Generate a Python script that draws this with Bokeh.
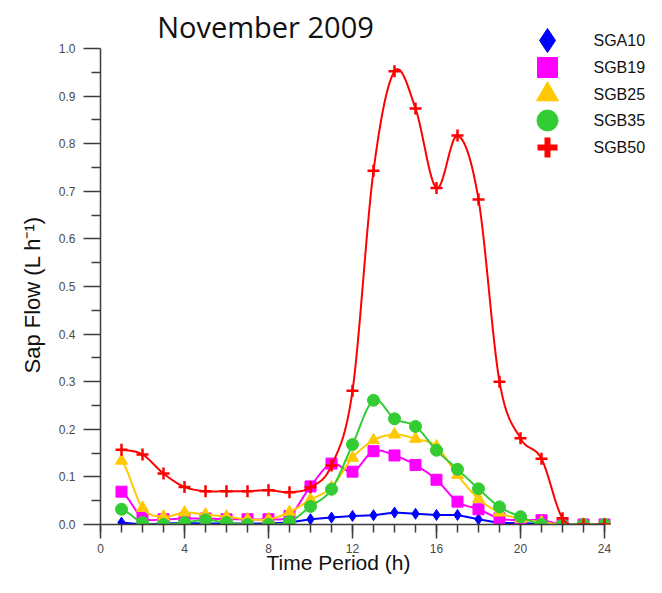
import numpy as np
from bokeh.plotting import figure
from bokeh.models import Range1d, FixedTicker, Label, NumeralTickFormatter, Title
from bokeh.core.properties import value
from bokeh.embed import file_html
from bokeh.resources import INLINE

# ---------------- data ----------------
hours = list(range(1, 25))
sga10 = [0.004, 0.0, 0.002, 0.003, 0.002, 0.002, 0.002, 0.002, 0.004, 0.011, 0.0145, 0.018,
         0.0195, 0.025, 0.0225, 0.02, 0.02, 0.011, 0.003, 0.003, 0.001, 0.0, 0.0, 0.0]
sgb19 = [0.069, 0.0145, 0.011, 0.0125, 0.0125, 0.011, 0.011, 0.011, 0.018, 0.08, 0.128, 0.111,
         0.154, 0.145, 0.125, 0.094, 0.048, 0.032, 0.013, 0.009, 0.009, 0.0, 0.0, 0.0]
sgb25 = [0.134, 0.035, 0.0165, 0.025, 0.021, 0.0165, 0.011, 0.011, 0.026, 0.052, 0.078, 0.14,
         0.177, 0.189, 0.18, 0.164, 0.104, 0.054, 0.025, 0.012, 0.005, 0.0, 0.0, 0.0]
sgb35 = [0.032, 0.004, 0.0, 0.004, 0.0097, 0.004, 0.0, 0.0, 0.006, 0.038, 0.074, 0.168,
         0.261, 0.222, 0.206, 0.156, 0.116, 0.075, 0.037, 0.0165, 0.0, 0.0, 0.0, 0.0]
sgb50 = [0.157, 0.147, 0.107, 0.079, 0.070, 0.070, 0.070, 0.072, 0.068, 0.078, 0.124, 0.281,
         0.743, 0.952, 0.874, 0.707, 0.817, 0.683, 0.300, 0.181, 0.138, 0.013, 0.0, 0.0]

series_names = ["SGA10", "SGB19", "SGB25", "SGB35", "SGB50"]
series_values = [sga10, sgb19, sgb25, sgb35, sgb50]
series_colors = ["#0000FF", "#FF00FF", "#FFC800", "#33CC33", "#FF0000"]
series_markers = ["diamond", "square", "triangle", "circle", "cross"]
series_smooth = [False, True, True, True, True]

x_ticks = [0, 4, 8, 12, 16, 20, 24]
y_ticks = [round(0.1 * i, 1) for i in range(11)]
title_text = "November 2009"
x_label = "Time Period (h)"
y_label = "Sap Flow (L h\u207b\u00b9)"


def catmull_rom(xs, ys, n=16):
    xs = np.asarray(xs, float)
    ys = np.asarray(ys, float)
    px = np.concatenate([[xs[0]], xs, [xs[-1]]])
    py = np.concatenate([[ys[0]], ys, [ys[-1]]])
    ox, oy = [], []
    t = np.linspace(0, 1, n, endpoint=False)
    for i in range(1, len(px) - 2):
        p0, p1, p2, p3 = py[i - 1], py[i], py[i + 1], py[i + 2]
        yy = 0.5 * ((2 * p1) + (-p0 + p2) * t + (2 * p0 - 5 * p1 + 4 * p2 - p3) * t ** 2
                    + (-p0 + 3 * p1 - 3 * p2 + p3) * t ** 3)
        xx = px[i] + (px[i + 1] - px[i]) * t
        ox.extend(xx)
        oy.extend(yy)
    ox.append(xs[-1])
    oy.append(ys[-1])
    return ox, oy


# ---------------- geometry ----------------
W, H = 646, 577
LEFT = 100          # px of x = 0
PX_PER_H = 21.0
Y0 = 524            # px of y = 0
PX_PER_UNIT = 476.0
x_end = (W - LEFT) / PX_PER_H
y_end = Y0 / PX_PER_UNIT


def dx(px):
    return (px - LEFT) / PX_PER_H


def dy(py):
    return (Y0 - py) / PX_PER_UNIT


p = figure(width=W, height=H, output_backend="svg", toolbar_location=None,
           x_range=Range1d(0, x_end), y_range=Range1d(0, y_end),
           min_border_left=LEFT, min_border_right=0, min_border_top=0,
           min_border_bottom=H - Y0)
p.outline_line_color = None
p.xgrid.visible = False
p.ygrid.visible = False
p.background_fill_color = "white"
p.border_fill_color = "white"

axis_color = "#3c3c3c"
label_color = "#4a4a4a"

xa = p.xaxis[0]
xa.bounds = (0, 24)
xa.ticker = FixedTicker(ticks=x_ticks, minor_ticks=list(range(0, 25)))
xa.axis_line_color = axis_color
xa.axis_line_width = 1.5
xa.major_tick_line_color = axis_color
xa.minor_tick_line_color = axis_color
xa.major_tick_line_width = 1.5
xa.minor_tick_line_width = 1.5
xa.major_tick_in = 0
xa.major_tick_out = 14
xa.minor_tick_in = 0
xa.minor_tick_out = 8
xa.major_label_standoff = 5
xa.major_label_text_font = "Liberation Sans"
xa.major_label_text_font_size = "12px"
xa.major_label_text_color = label_color

ya = p.yaxis[0]
ya.bounds = (0, 1.0)
ya.ticker = FixedTicker(ticks=y_ticks, minor_ticks=[round(0.05 + 0.1 * i, 2) for i in range(10)])
ya.formatter = NumeralTickFormatter(format="0.0")
ya.axis_line_color = axis_color
ya.axis_line_width = 1.5
ya.major_tick_line_color = axis_color
ya.minor_tick_line_color = axis_color
ya.major_tick_line_width = 1.5
ya.minor_tick_line_width = 1.5
ya.major_tick_in = 0
ya.major_tick_out = 17
ya.minor_tick_in = 0
ya.minor_tick_out = 9
ya.major_label_standoff = 8
ya.major_label_text_font = "Liberation Sans"
ya.major_label_text_font_size = "12px"
ya.major_label_text_color = label_color

# axis titles as side-panel titles so that they can be shifted along the axis
p.add_layout(Title(text=x_label, text_font="Liberation Sans", text_font_size="21px",
                   text_font_style="normal", text_color="#111111", align="left",
                   vertical_align="middle", offset=166, standoff=-11), "below")
p.add_layout(Title(text=y_label, text_font="Liberation Sans", text_font_size="22px",
                   text_font_style="normal", text_color="#111111", align="left",
                   vertical_align="top", offset=151, standoff=17), "left")

# ---------------- series ----------------
marker_sizes = {"diamond": 11, "square": 11, "triangle": 12, "circle": 12, "cross": 12}
for name, vals, col, mk, sm in zip(series_names, series_values, series_colors,
                                    series_markers, series_smooth):
    if sm:
        lx, ly = catmull_rom(hours, vals)
    else:
        lx, ly = hours, vals
    p.line(lx, ly, line_color=col, line_width=2)
    if mk == "cross":
        p.scatter(hours, vals, marker=mk, size=marker_sizes[mk], line_color=col, line_width=2.5)
    else:
        p.scatter(hours, vals, marker=mk, size=marker_sizes[mk], fill_color=col, line_color=col)

# ---------------- legend (manual) ----------------
leg_px_y = [40, 67, 94, 120, 147]
leg_sizes = {"diamond": 24, "square": 20, "triangle": 22, "circle": 21, "cross": 20}
for name, col, mk, py in zip(series_names, series_colors, series_markers, leg_px_y):
    yy = dy(py)
    if mk == "cross":
        p.scatter([dx(547)], [yy], marker=mk, size=leg_sizes[mk], line_color=col, line_width=6)
    else:
        p.scatter([dx(547)], [yy], marker=mk, size=leg_sizes[mk], fill_color=col, line_color=col)
    p.text([dx(593)], [yy], text=[name], text_font=value("Liberation Sans"),
           text_font_size="16px", text_color="#111111", text_baseline="middle", text_align="left")

# ---------------- title ----------------
p.add_layout(Label(x=dx(265), y=dy(26), text=title_text, text_font="Open Sans",
                   text_font_size="29px", text_color="#111111", text_align="center",
                   text_baseline="middle"))

open("out.html", "w").write(file_html(p, INLINE))
